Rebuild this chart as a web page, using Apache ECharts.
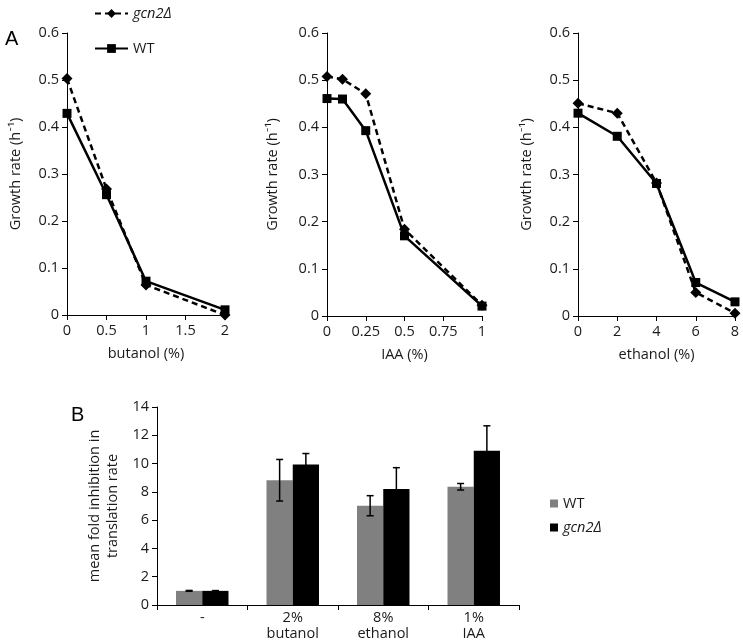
<!DOCTYPE html>
<html>
<head>
<meta charset="utf-8">
<script src="https://cdn.jsdelivr.net/npm/echarts@6/dist/echarts.min.js"></script>
<style>html,body{margin:0;padding:0;background:#fff}#c{width:743px;height:643px}</style>
</head>
<body>
<div id="c"></div>
<script>
// ---- Panel A data ----
const butanolX = [0, 0.5, 1, 2];
const butanolGcn2 = [0.503, 0.268, 0.064, 0.0];
const butanolWT = [0.429, 0.256, 0.072, 0.011];

const iaaX = [0, 0.1, 0.25, 0.5, 1];
const iaaGcn2 = [0.508, 0.502, 0.471, 0.184, 0.023];
const iaaWT = [0.461, 0.460, 0.393, 0.170, 0.021];

const ethanolX = [0, 2, 4, 6, 8];
const ethanolGcn2 = [0.451, 0.430, 0.282, 0.050, 0.006];
const ethanolWT = [0.430, 0.381, 0.281, 0.071, 0.030];

// ---- Panel B data ----
const barCategories = ['-', '2%\nbutanol', '8%\nethanol', '1%\nIAA'];
const barWT = [1.0, 8.82, 7.02, 8.36];
const barWTErr = [0.03, 1.47, 0.71, 0.23];
const barGcn2 = [1.0, 9.93, 8.21, 10.9];
const barGcn2Err = [0.02, 0.78, 1.5, 1.77];

const FONT = '"Open Sans", Lato, sans-serif';
const FS = 14.5;
const TXT = '#1a1a1a';
const GCN = 'gcn2Δ';
const GAP = 0.42;

function pairs(xs, ys) { return xs.map((x, i) => [x, ys[i]]); }

function lineSeries(name, idx, data) {
  const dashed = name === GCN;
  return {
    type: 'line', name: name, xAxisIndex: idx, yAxisIndex: idx, data: data,
    symbol: dashed ? 'diamond' : 'rect', symbolSize: dashed ? 11 : 9,
    clip: false, z: dashed ? 2 : 3,
    lineStyle: { color: '#000', width: 2.5, type: dashed ? [6, 4] : 'solid' },
    itemStyle: { color: '#000' }
  };
}

function yAxisLine(idx, gap) {
  return {
    type: 'value', gridIndex: idx, min: 0, max: 0.6, interval: 0.1,
    name: 'Growth rate (h⁻¹)', nameLocation: 'middle', nameGap: gap,
    nameTextStyle: { fontFamily: FONT, fontSize: FS, color: TXT },
    axisLine: { show: true, lineStyle: { color: '#000', width: 1 } },
    axisTick: { show: true, length: 5, lineStyle: { color: '#000' } },
    axisLabel: { fontFamily: FONT, fontSize: FS, color: TXT, margin: 8 },
    splitLine: { show: false }
  };
}

function xAxisLine(idx, max, interval, name) {
  return {
    type: 'value', gridIndex: idx, min: 0, max: max, interval: interval,
    name: name, nameLocation: 'middle', nameGap: 31,
    nameTextStyle: { fontFamily: FONT, fontSize: FS, color: TXT },
    axisLine: { show: true, onZero: false, lineStyle: { color: '#000', width: 1 } },
    axisTick: { show: true, length: 5, lineStyle: { color: '#000' } },
    axisLabel: { fontFamily: FONT, fontSize: FS, color: TXT, margin: 8, showMaxLabel: true, showMinLabel: true },
    splitLine: { show: false }
  };
}

function errSeries(name, values, errs, side) {
  return {
    type: 'custom', name: name + '_err', xAxisIndex: 3, yAxisIndex: 3, z: 10,
    data: values.map((v, i) => [i, v, errs[i]]),
    encode: { x: 0, y: 1 },
    renderItem: function (params, api) {
      const i = api.value(0), v = api.value(1), e = api.value(2);
      const c = api.coord([i, v]);
      const catW = api.size([1, 0])[0];
      const bw = catW * (1 - GAP) / 2;
      const x = c[0] + side * bw / 2;
      const yt = api.coord([i, v + e])[1];
      const yb = api.coord([i, v - e])[1];
      const cap = 3.5;
      const st = { stroke: '#000', lineWidth: 1.5 };
      return {
        type: 'group', children: [
          { type: 'line', shape: { x1: x, y1: yt, x2: x, y2: yb }, style: st },
          { type: 'line', shape: { x1: x - cap, y1: yt, x2: x + cap, y2: yt }, style: st },
          { type: 'line', shape: { x1: x - cap, y1: yb, x2: x + cap, y2: yb }, style: st }
        ]
      };
    }
  };
}

const option = {
  backgroundColor: '#fff',
  animation: false,
  textStyle: { fontFamily: FONT },
  title: [
    { text: 'A', left: 0, top: 24, textStyle: { fontFamily: 'Liberation Sans, Arial, sans-serif', fontSize: 20, fontWeight: 'normal', color: '#000' } },
    { text: 'B', left: 66, top: 400, textStyle: { fontFamily: 'Liberation Sans, Arial, sans-serif', fontSize: 20, fontWeight: 'normal', color: '#000' } }
  ],
  legend: [
    {
      data: [GCN, 'WT'], orient: 'vertical', left: 89, top: 1, itemWidth: 33, itemHeight: 11, itemGap: 20,
      formatter: n => n === GCN ? '{i|' + n + '}' : n,
      textStyle: { fontFamily: FONT, fontSize: FS, color: TXT, rich: { i: { fontStyle: 'italic', fontFamily: FONT, fontSize: FS, color: TXT } } },
      selectedMode: false
    },
    {
      data: ['WT ', GCN + ' '], orient: 'vertical', left: 545, top: 491, itemWidth: 8, itemHeight: 8, itemGap: 9,
      icon: 'rect',
      formatter: n => n.trim() === GCN ? '{i|' + n.trim() + '}' : n.trim(),
      textStyle: { fontFamily: FONT, fontSize: FS, color: TXT, rich: { i: { fontStyle: 'italic', fontFamily: FONT, fontSize: FS, color: TXT } } },
      selectedMode: false
    }
  ],
  grid: [
    { left: 67, top: 33, width: 158, height: 282 },
    { left: 327, top: 33, width: 155, height: 283 },
    { left: 578, top: 33, width: 157, height: 283 },
    { left: 157, top: 407, width: 362, height: 198 }
  ],
  xAxis: [
    xAxisLine(0, 2, 0.5, 'butanol (%)'),
    xAxisLine(1, 1, 0.25, 'IAA (%)'),
    xAxisLine(2, 8, 2, 'ethanol (%)'),
    {
      type: 'category', gridIndex: 3, data: barCategories,
      axisLine: { show: true, lineStyle: { color: '#000', width: 1 } },
      axisTick: { show: true, length: 5, lineStyle: { color: '#000' } },
      axisLabel: { fontFamily: FONT, fontSize: FS, color: TXT, margin: 5, lineHeight: 16 }
    }
  ],
  yAxis: [
    yAxisLine(0, 44),
    yAxisLine(1, 47),
    yAxisLine(2, 44),
    {
      type: 'value', gridIndex: 3, min: 0, max: 14, interval: 2,
      name: 'mean fold inhibition in\ntranslation rate', nameLocation: 'middle', nameGap: 35,
      nameTextStyle: { fontFamily: FONT, fontSize: FS, color: TXT, lineHeight: 18 },
      axisLine: { show: true, lineStyle: { color: '#000', width: 1 } },
      axisTick: { show: true, length: 5, lineStyle: { color: '#000' } },
      axisLabel: { fontFamily: FONT, fontSize: FS, color: TXT, margin: 8 },
      splitLine: { show: false }
    }
  ],
  series: [
    lineSeries(GCN, 0, pairs(butanolX, butanolGcn2)),
    lineSeries('WT', 0, pairs(butanolX, butanolWT)),
    lineSeries(GCN, 1, pairs(iaaX, iaaGcn2)),
    lineSeries('WT', 1, pairs(iaaX, iaaWT)),
    lineSeries(GCN, 2, pairs(ethanolX, ethanolGcn2)),
    lineSeries('WT', 2, pairs(ethanolX, ethanolWT)),
    {
      type: 'bar', name: 'WT ', xAxisIndex: 3, yAxisIndex: 3, data: barWT,
      itemStyle: { color: '#808080' }, barGap: '0%', barCategoryGap: (GAP * 100) + '%'
    },
    {
      type: 'bar', name: GCN + ' ', xAxisIndex: 3, yAxisIndex: 3, data: barGcn2,
      itemStyle: { color: '#000' }, barGap: '0%', barCategoryGap: (GAP * 100) + '%'
    },
    errSeries('WT', barWT, barWTErr, -1),
    errSeries('gcn2', barGcn2, barGcn2Err, 1)
  ]
};

const chart = echarts.init(document.getElementById('c'), null, { renderer: 'canvas' });
chart.setOption(option);
</script>
</body>
</html>
